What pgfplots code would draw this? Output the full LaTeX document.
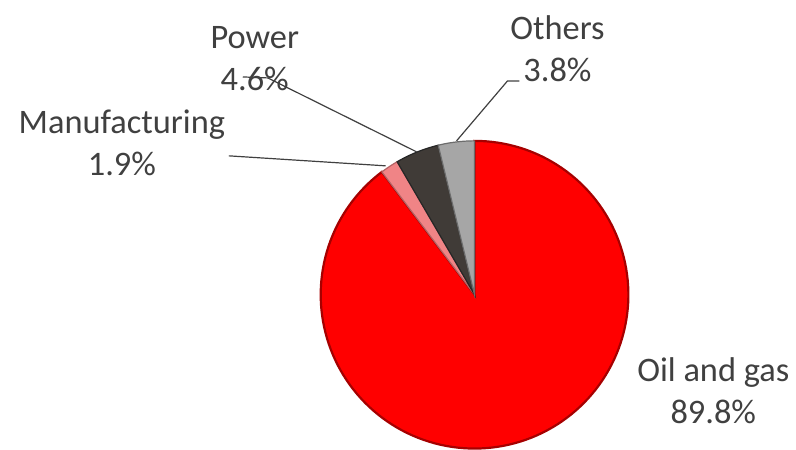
\documentclass[border=0pt]{standalone}
\usepackage{pgfplots}
\pgfplotsset{compat=1.18}
\usepackage{fontspec}
\setmainfont{Carlito}
\definecolor{oilred}{HTML}{FF0000}
\definecolor{manu}{HTML}{F08486}
\definecolor{powr}{HTML}{403B37}
\definecolor{othr}{HTML}{A6A6A6}
\definecolor{txt}{HTML}{404040}
\definecolor{lead}{HTML}{404040}
% data (percent)
\def\vOil{89.8}\def\vMan{1.9}\def\vPow{4.6}\def\vOth{3.8}
\pgfmathsetmacro\tot{\vOil+\vMan+\vPow+\vOth}
\pgfmathsetmacro\k{360/\tot}
\pgfmathsetmacro\aA{90-\k*\vOil}
\pgfmathsetmacro\aB{\aA-\k*\vMan}
\pgfmathsetmacro\aC{\aB-\k*\vPow}
\pgfmathsetmacro\aD{\aC-\k*\vOth}
\begin{document}
\begin{tikzpicture}
\begin{axis}[scale only axis, width=398pt, height=224.5pt,
  xmin=0, xmax=796, ymin=0, ymax=449,
  axis line style={draw=none}, xtick=\empty, ytick=\empty,
  clip=false]
% slices
\addplot[fill=oilred, draw=oilred!65!black, line width=1.1pt, domain=\aA:90, samples=150, variable=\t]
  ({475+154*cos(t)},{154+154*sin(t)}) -- (axis cs:475,154) -- cycle;
\addplot[fill=manu, draw=manu!75!black, line width=0.6pt, domain=\aB:\aA, samples=10, variable=\t]
  ({475+154*cos(t)},{154+154*sin(t)}) -- (axis cs:475,154) -- cycle;
\addplot[fill=powr, draw=black!85, line width=0.6pt, domain=\aC:\aB, samples=20, variable=\t]
  ({475+154*cos(t)},{154+154*sin(t)}) -- (axis cs:475,154) -- cycle;
\addplot[fill=othr, draw=othr!65!black, line width=0.6pt, domain=\aD:\aC, samples=20, variable=\t]
  ({475+154*cos(t)},{154+154*sin(t)}) -- (axis cs:475,154) -- cycle;
% leader lines
\addplot[lead, line width=0.6pt] coordinates {(457,308) (508,368) (520,368)};
\addplot[lead, line width=0.6pt] coordinates {(417,297) (268,371) (243,372)};
\addplot[lead, line width=0.6pt] coordinates {(386,283) (229,293)};
% labels
\begin{scope}[every node/.style={text=txt, align=center, font=\fontsize{17.2}{21}\selectfont}]
\node at (axis cs:255,390) {Power\\4.6\%};
\node at (axis cs:558,400) {Others\\3.8\%};
\node at (axis cs:122,306) {Manufacturing\\1.9\%};
\node at (axis cs:714,58) {Oil and gas\\89.8\%};
\end{scope}
\end{axis}
\end{tikzpicture}
\end{document}
